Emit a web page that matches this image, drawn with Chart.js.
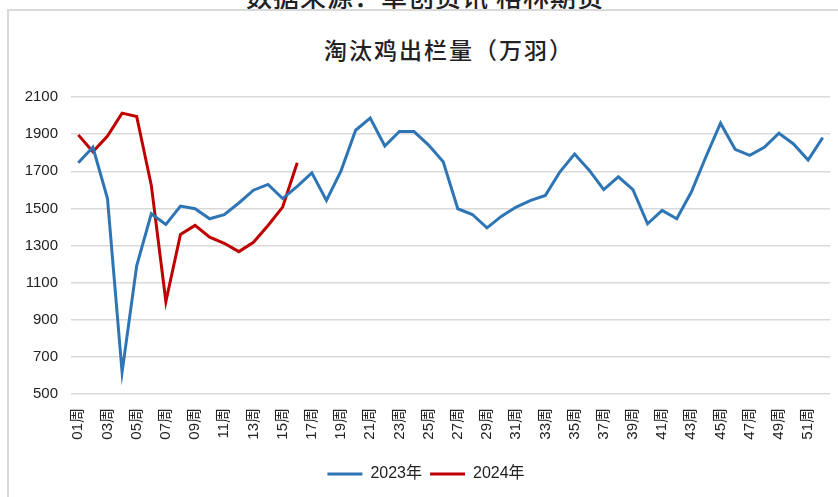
<!DOCTYPE html>
<html>
<head>
<meta charset="utf-8">
<script src="https://cdn.jsdelivr.net/npm/chart.js@4"></script>
<style>
  html, body { margin: 0; padding: 0; background: #fff; overflow: hidden; }
  #wrap { position: relative; width: 838px; height: 497px; }
  #frame { position: absolute; left: 7px; top: 9px; width: 840px; height: 500px; border: 2px solid #d9d9d9; box-sizing: border-box; }
  #source { position: absolute; left: 0; width: 850px; top: -17px; text-align: center; font: 500 26px "Noto Sans CJK SC", sans-serif; color: #222; line-height: 26px; letter-spacing: 1px; }
  #title { position: absolute; left: 0; width: 898px; top: 32px; text-align: center; font: 500 23px "Noto Sans CJK SC", sans-serif; color: #222; letter-spacing: 2px; }
  #chart { position: absolute; left: 0; top: 0; }
</style>
</head>
<body>
<div id="wrap">
  <div id="source">数据来源：卓创资讯 格林期货</div>
  <div id="frame"></div>
  <div id="title">淘汰鸡出栏量（万羽）</div>
  <canvas id="chart" width="838" height="497"></canvas>
</div>
<script>
const weeks = ['01周', '02周', '03周', '04周', '05周', '06周', '07周', '08周', '09周', '10周',
  '11周', '12周', '13周', '14周', '15周', '16周', '17周', '18周', '19周', '20周',
  '21周', '22周', '23周', '24周', '25周', '26周', '27周', '28周', '29周', '30周',
  '31周', '32周', '33周', '34周', '35周', '36周', '37周', '38周', '39周', '40周',
  '41周', '42周', '43周', '44周', '45周', '46周', '47周', '48周', '49周', '50周',
  '51周', '52周'];

const data2023 = [1746, 1829, 1553, 618, 1191, 1471, 1413, 1512, 1498, 1444,
  1466, 1529, 1598, 1629, 1553, 1619, 1691, 1543, 1702, 1921,
  1986, 1836, 1914, 1914, 1841, 1751, 1498, 1467, 1395, 1458,
  1507, 1543, 1570, 1697, 1793, 1706, 1601, 1670, 1601, 1417,
  1489, 1444, 1588, 1778, 1959, 1818, 1786, 1829, 1905, 1847,
  1760, 1881];

const data2024 = [1896, 1805, 1890, 2013, 1995, 1625, 998, 1359, 1408, 1345,
  1312, 1267, 1317, 1408, 1507, 1746];

const yMin = 500;
const yMax = 2100;
const yStep = 200;

const font = '"Liberation Sans", Arial, "Noto Sans CJK SC", sans-serif';

// nudge the legend a little to the right, as in the source picture
const legendShift = {
    id: 'legendShift',
    afterLayout(chart) {
        chart.legend.left += 11;
        chart.legend.right += 11;
        chart.legend.adjustHitBoxes();
    }
};

const ctx = document.getElementById('chart').getContext('2d');
new Chart(ctx, {
    type: 'line',
    data: {
        labels: weeks,
        datasets: [{
            label: '2023年',
            data: data2023,
            borderColor: '#2E75B6',
            backgroundColor: '#2E75B6',
            borderWidth: 3,
            pointRadius: 0,
            tension: 0
        }, {
            label: '2024年',
            data: data2024,
            borderColor: '#C00000',
            backgroundColor: '#C00000',
            borderWidth: 3,
            pointRadius: 0,
            tension: 0
        }]
    },
    options: {
        responsive: false,
        animation: false,
        layout: {
            padding: { top: 97, right: 8, bottom: 5, left: 0 }
        },
        plugins: {
            title: { display: false },
            tooltip: { enabled: false },
            legend: {
                position: 'bottom',
                labels: {
                    usePointStyle: true,
                    pointStyle: 'line',
                    pointStyleWidth: 35,
                    boxHeight: 3,
                    color: '#222',
                    font: { family: font, size: 16 },
                    padding: 8
                }
            }
        },
        scales: {
            y: {
                min: yMin,
                max: yMax,
                afterFit: function (scale) { scale.width = 71; },
                ticks: {
                    stepSize: yStep,
                    color: '#222',
                    padding: 13,
                    font: { family: font, size: 15 },
                    callback: function (value) { return String(value); }
                },
                grid: {
                    color: '#d9d9d9',
                    lineWidth: 1.5,
                    drawTicks: false
                },
                border: { display: false }
            },
            x: {
                offset: true,
                afterFit: function (scale) {
                    scale.height = 64;
                    scale.paddingLeft = 0;
                    scale.paddingRight = 0;
                },
                ticks: {
                    autoSkip: false,
                    minRotation: 90,
                    maxRotation: 90,
                    padding: 6,
                    color: '#222',
                    font: { family: font, size: 15 },
                    callback: function (value, index) {
                        return index % 2 === 0 ? this.getLabelForValue(value) : '';
                    }
                },
                grid: { display: false },
                border: { display: false }
            }
        }
    },
    plugins: [legendShift]
});
</script>
</body>
</html>
